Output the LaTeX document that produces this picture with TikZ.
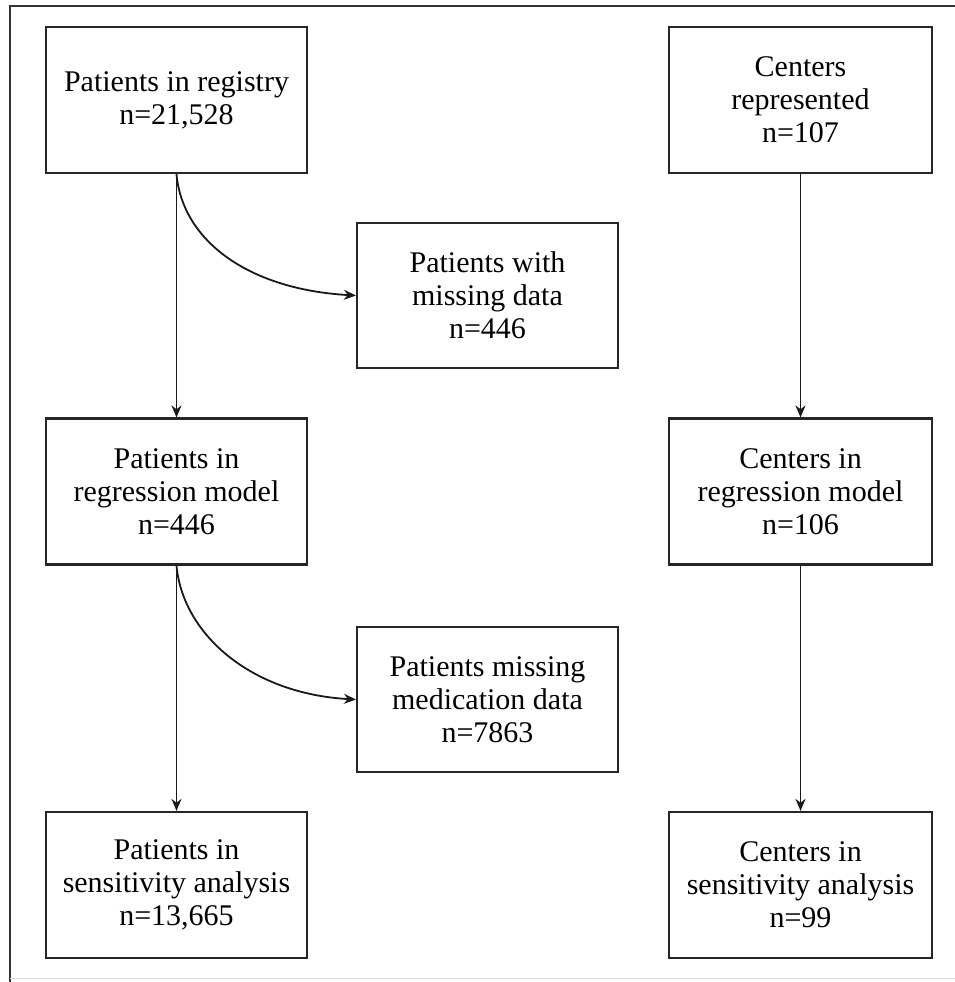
\documentclass[tikz,border=0pt]{standalone}
\usepackage{fontspec}
\setmainfont{Liberation Serif}
\usetikzlibrary{arrows.meta}
\begin{document}
\begin{tikzpicture}[x=1pt,y=-1pt,
  boxnode/.style={draw=black!85, line width=2.2pt, fill=white, minimum width=261pt, minimum height=146pt,
    align=center, inner sep=0pt, font=\fontsize{30}{33}\selectfont},
  arr/.style={line width=1.8pt, draw=black!90, -{Stealth[length=12pt,width=10pt]}}]
\useasboundingbox (0,0) rectangle (955,982);
\fill[white] (0,0) rectangle (955,982);
% outer frame
\draw[line width=2.4pt, black!80] (955,6) -- (10,6) -- (10,982);
\draw[line width=1pt, black!12] (10,978) -- (955,978);
% left column
\node[boxnode] (reg) at (176.5,100) {Patients in registry\\n=21,528};
\node[boxnode] (regm) at (176.5,491.5) {Patients in\\regression model\\n=446};
\node[boxnode] (sens) at (176.5,885) {Patients in\\sensitivity analysis\\n=13,665};
% middle column
\node[boxnode, minimum height=145pt] (miss) at (487.5,295.5) {Patients with\\missing data\\n=446};
\node[boxnode, minimum height=145pt] (med) at (487.5,699.5) {Patients missing\\medication data\\n=7863};
% right column
\node[boxnode, minimum width=263pt] (cen) at (800.5,100) {Centers\\represented\\n=107};
\node[boxnode, minimum width=263pt] (cenm) at (800.5,491.5) {Centers in\\regression model\\n=106};
\node[boxnode, minimum width=263pt] (cens) at (800.5,885) {Centers in\\sensitivity analysis\\n=99};
% connectors
\draw[arr] (reg.south) -- (regm.north);
\draw[arr] (regm.south) -- (sens.north);
\draw[arr] (reg.south) .. controls ([shift={(6,67)}]reg.south) and ([shift={(-107,-6)}]miss.west) .. (miss.west);
\draw[arr] (regm.south) .. controls ([shift={(6,67)}]regm.south) and ([shift={(-107,-6)}]med.west) .. (med.west);
\draw[arr] (cen.south) -- (cenm.north);
\draw[arr] (cenm.south) -- (cens.north);
\end{tikzpicture}
\end{document}
